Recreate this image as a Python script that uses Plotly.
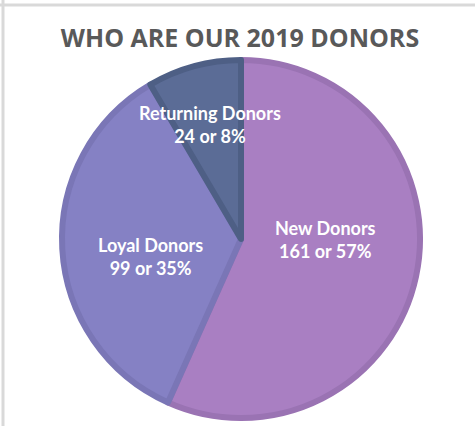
import math
import plotly.graph_objects as go

labels = ["New Donors", "Loyal Donors", "Returning Donors"]
values = [161, 99, 24]
fill_colors = ["#A97FC2", "#8581C4", "#5B6C96"]
edge_colors = ["#9A73B3", "#7A76B6", "#4E5F85"]
title_text = "WHO ARE OUR 2019 DONORS"

# label placement style (radius fraction and angle nudge per slice)
label_rfrac = [0.47, 0.51, 0.66]
label_dtheta = [-12, -8, 0]

W, H = 475, 426
cx, cy, r = 241, 239, 179

fig = go.Figure(go.Pie(
    labels=labels,
    values=values,
    sort=False,
    direction="clockwise",
    rotation=0,
    marker=dict(colors=fill_colors, line=dict(color=edge_colors, width=6)),
    textinfo="none",
    showlegend=False,
    hoverinfo="label+value+percent",
    domain=dict(x=[(cx - r) / W, (cx + r) / W], y=[(H - cy - r) / H, (H - cy + r) / H]),
))

total = sum(values)
annotations = []
cum = 0
for lab, v, rf, dt in zip(labels, values, label_rfrac, label_dtheta):
    mid = (cum + v / 2) / total * 360 + dt
    cum += v
    px = cx + rf * 180 * math.sin(math.radians(mid))
    py = cy - rf * 180 * math.cos(math.radians(mid))
    pct = round(v / total * 100)
    annotations.append(dict(
        text=f"<b>{lab}<br>{v} or {pct}%</b>",
        x=px / W, y=1 - py / H, xref="paper", yref="paper",
        xanchor="center", yanchor="middle", showarrow=False, align="center",
        font=dict(family="Lato, Open Sans, sans-serif", size=18, color="white"),
    ))

fig.update_layout(
    width=W, height=H,
    margin=dict(l=0, r=0, t=0, b=0),
    paper_bgcolor="white",
    plot_bgcolor="white",
    annotations=annotations,
    title=dict(text="<b>" + title_text + "</b>", x=240 / W, xanchor="center", y=1 - 38.5 / H, yanchor="middle",
               font=dict(family="Open Sans, sans-serif", size=25, color="#595959")),
    shapes=[
        dict(type="line", xref="paper", yref="paper", x0=0, x1=1, y0=1 - 5 / H, y1=1 - 5 / H,
             line=dict(color="#D9D9D9", width=3)),
        dict(type="line", xref="paper", yref="paper", x0=3 / W, x1=3 / W, y0=0, y1=1,
             line=dict(color="#D9D9D9", width=3)),
    ],
)

fig.write_html("out.html", config={"displayModeBar": False},
               post_script="document.body.style.margin='0';document.body.style.overflow='hidden';")
